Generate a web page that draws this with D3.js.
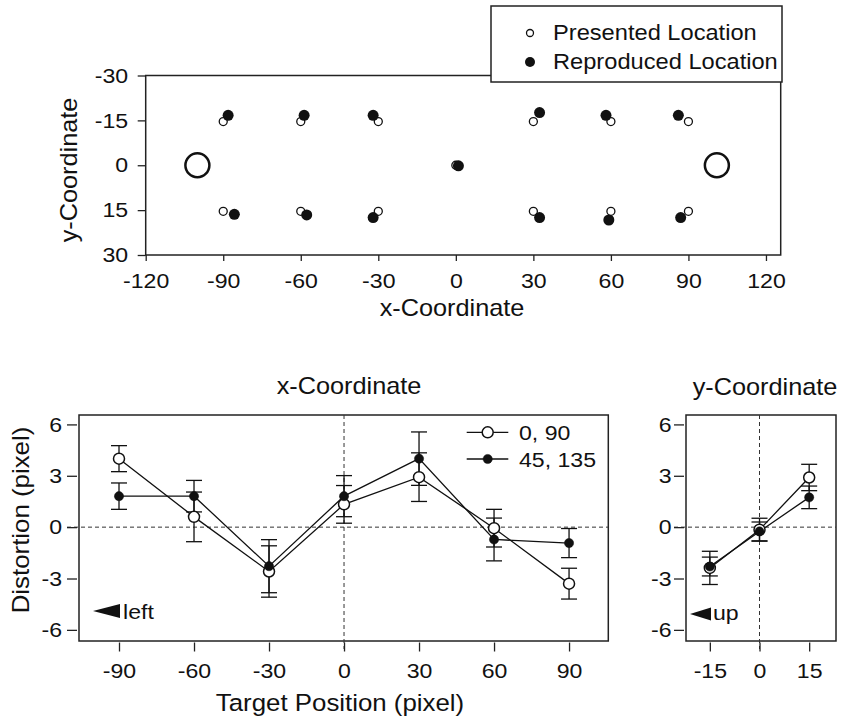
<!DOCTYPE html>
<html><head><meta charset="utf-8">
<script src="https://cdn.jsdelivr.net/npm/d3@7"></script>
<style>body{margin:0;background:#fff;} svg{display:block;}</style>
</head><body>
<svg id="chart" width="843" height="720"></svg>
<script>
// ---------- data ----------
const topTicksX = [-120, -90, -60, -30, 0, 30, 60, 90, 120];
const topTicksY = [-30, -15, 0, 15, 30];
const legendNames = ["Presented Location", "Reproduced Location"];
const presentedX = [-90, -60, -30, 30, 60, 90, -90, -60, -30, 30, 60, 90, 0];
const presentedY = [-14.6, -14.6, -14.6, -14.6, -14.6, -14.6, 15.4, 15.4, 15.4, 15.4, 15.4, 15.4, 0];
const reproducedX = [-88.1, -58.7, -32.0, 32.4, 58.1, 86.1, -85.7, -57.7, -32.0, 32.4, 59.2, 87.0, 1.0];
const reproducedY = [-16.7, -16.7, -16.7, -17.6, -16.7, -16.7, 16.4, 16.6, 17.5, 17.5, 18.3, 17.5, 0.2];
const anchorX = [-100, 101];
const anchorY = [0, 0];

const seriesNames = ["0, 90", "45, 135"];
const distTicks = [-6, -3, 0, 3, 6];
const targetX = [-90, -60, -30, 0, 30, 60, 90];
const xOpen = [4.0, 0.6, -2.59, 1.33, 2.92, -0.06, -3.3];
const xOpenErr = [0.76, 1.45, 1.5, 1.1, 1.42, 1.1, 0.9];
const xFilled = [1.81, 1.81, -2.28, 1.81, 4.0, -0.72, -0.93];
const xFilledErr = [0.77, 0.92, 1.55, 1.2, 1.56, 1.25, 0.85];
const targetY = [-15, 0, 15];
const yOpen = [-2.38, -0.15, 2.9];
const yOpenErr = [0.97, 0.67, 0.77];
const yFilled = [-2.3, -0.25, 1.74];
const yFilledErr = [0.55, 0.55, 0.66];

// ---------- helpers ----------
const FONT = "'Liberation Sans', Arial, Helvetica, sans-serif";
const SX = 1.1;
const INK = "#111";
const svg = d3.select("#chart");

function addText(x, y, str, size, anchor, rotate) {
  return svg.append("text")
    .attr("transform", `translate(${x},${y})${rotate ? " rotate(-90)" : ""} scale(${SX},1)`)
    .attr("text-anchor", anchor)
    .style("font-size", size + "px")
    .style("font-family", FONT)
    .attr("fill", INK)
    .text(str);
}
function styleAxis(g, size, isLeft) {
  g.select(".domain").remove();
  g.selectAll(".tick line").attr("stroke", "#222").attr("stroke-width", 1.3);
  g.selectAll(".tick text")
    .style("font-size", size + "px").style("font-family", FONT).attr("fill", INK)
    .attr("transform", `scale(${SX},1)`);
  if (isLeft) g.selectAll(".tick text").attr("x", function () { return +this.getAttribute("x") / SX; });
}
const fmt = d => String(d);

// ---------- top panel ----------
const xTop = d3.scaleLinear().domain([-120, 125.7]).range([145.7, 780.7]);
const yTop = d3.scaleLinear().domain([-30, 30]).range([75.5, 255]);

svg.append("rect").attr("x", xTop.range()[0]).attr("y", yTop.range()[0])
  .attr("width", xTop.range()[1] - xTop.range()[0]).attr("height", yTop.range()[1] - yTop.range()[0])
  .attr("fill", "none").attr("stroke", "#222").attr("stroke-width", 1.5);

const gxTop = svg.append("g").attr("transform", "translate(0,255)")
  .call(d3.axisBottom(xTop).tickValues(topTicksX).tickSize(6).tickPadding(12).tickFormat(fmt));
styleAxis(gxTop, 21, false);
const gyTop = svg.append("g").attr("transform", "translate(145.7,0)")
  .call(d3.axisLeft(yTop).tickValues(topTicksY).tickSize(8).tickPadding(9.5).tickFormat(fmt));
styleAxis(gyTop, 21, true);

addText(452, 316, "x-Coordinate", 23, "middle", false);
addText(77, 170, "y-Coordinate", 23, "middle", true);

svg.append("g").selectAll("circle").data(anchorX.map((x, i) => ({x, y: anchorY[i]}))).join("circle")
  .attr("cx", d => xTop(d.x)).attr("cy", d => yTop(d.y)).attr("r", 12)
  .attr("fill", "none").attr("stroke", INK).attr("stroke-width", 2.5);
svg.append("g").selectAll("circle").data(presentedX.map((x, i) => ({x, y: presentedY[i]}))).join("circle")
  .attr("cx", d => xTop(d.x)).attr("cy", d => yTop(d.y)).attr("r", 4)
  .attr("fill", "#fff").attr("stroke", INK).attr("stroke-width", 1.3);
svg.append("g").selectAll("circle").data(reproducedX.map((x, i) => ({x, y: reproducedY[i]}))).join("circle")
  .attr("cx", d => xTop(d.x)).attr("cy", d => yTop(d.y)).attr("r", 5.5)
  .attr("fill", INK);

// legend
svg.append("rect").attr("x", 491).attr("y", 6).attr("width", 291).attr("height", 76)
  .attr("fill", "#fff").attr("stroke", "#222").attr("stroke-width", 1.5);
svg.append("circle").attr("cx", 530).attr("cy", 33).attr("r", 3.5).attr("fill", "#fff").attr("stroke", INK).attr("stroke-width", 1.3);
svg.append("circle").attr("cx", 530).attr("cy", 62).attr("r", 5).attr("fill", INK);
addText(553, 39.5, legendNames[0], 21.5, "start", false);
addText(553, 68.5, legendNames[1], 21.5, "start", false);

// ---------- bottom panels ----------
const yB = d3.scaleLinear().domain([-6.65, 6.55]).range([641, 415]);

function drawPanel(xs, cats, openV, openE, fillV, fillE, yAxisX, yPad) {
  const [x0, x1] = xs.range();
  const [y1, y0] = yB.range();
  svg.append("rect").attr("x", x0).attr("y", y0).attr("width", x1 - x0).attr("height", y1 - y0)
    .attr("fill", "none").attr("stroke", "#222").attr("stroke-width", 1.5);
  // dashed reference lines
  svg.append("line").attr("x1", yAxisX - 10).attr("x2", x1).attr("y1", yB(0)).attr("y2", yB(0))
    .attr("stroke", "#333").attr("stroke-width", 1).attr("stroke-dasharray", "4,3");
  svg.append("line").attr("x1", xs(0)).attr("x2", xs(0)).attr("y1", y0).attr("y2", y1 + 8)
    .attr("stroke", "#333").attr("stroke-width", 1).attr("stroke-dasharray", "4,3");
  // axes
  const gx = svg.append("g").attr("transform", `translate(0,${y1 + 1.5})`)
    .call(d3.axisBottom(xs).tickValues(cats).tickSize(9).tickPadding(12).tickFormat(fmt));
  styleAxis(gx, 21, false);
  const gy = svg.append("g").attr("transform", `translate(${yAxisX},0)`)
    .call(d3.axisLeft(yB).tickValues(distTicks).tickSize(10).tickPadding(yPad).tickFormat(fmt));
  styleAxis(gy, 21, true);

  const series = [
    {v: openV, e: openE, open: true},
    {v: fillV, e: fillE, open: false}
  ];
  const line = d3.line().x(d => xs(d.x)).y(d => yB(d.v));
  series.forEach(s => {
    const pts = cats.map((x, i) => ({x, v: s.v[i], e: s.e[i]}));
    svg.append("path").datum(pts).attr("d", line).attr("fill", "none").attr("stroke", INK).attr("stroke-width", 1.3);
    s.pts = pts;
  });
  series.forEach(s => {
    const g = svg.append("g").attr("stroke", INK).attr("stroke-width", 1.3);
    s.pts.forEach(p => {
      const cx = xs(p.x), ya = yB(p.v + p.e), yb = yB(p.v - p.e);
      g.append("line").attr("x1", cx).attr("x2", cx).attr("y1", ya).attr("y2", yb);
      g.append("line").attr("x1", cx - 8).attr("x2", cx + 8).attr("y1", ya).attr("y2", ya);
      g.append("line").attr("x1", cx - 8).attr("x2", cx + 8).attr("y1", yb).attr("y2", yb);
    });
  });
  series.forEach(s => {
    svg.append("g").selectAll("circle").data(s.pts).join("circle")
      .attr("cx", d => xs(d.x)).attr("cy", d => yB(d.v))
      .attr("r", s.open ? 5.5 : 4.6)
      .attr("fill", s.open ? "#fff" : INK)
      .attr("stroke", INK).attr("stroke-width", s.open ? 1.5 : 0.5);
  });
}

const xLeft = d3.scaleLinear().domain([-106, 105.7]).range([79, 608.3]);
drawPanel(xLeft, targetX, xOpen, xOpenErr, xFilled, xFilledErr, 77, 5);
const xRight = d3.scaleLinear().domain([-22.2, 23.1]).range([686, 836]);
drawPanel(xRight, targetY, yOpen, yOpenErr, yFilled, yFilledErr, 684, 2.5);

// bottom legend
[{name: seriesNames[0], open: true, y: 432.3}, {name: seriesNames[1], open: false, y: 459}].forEach(l => {
  svg.append("line").attr("x1", 466.7).attr("x2", 508.3).attr("y1", l.y).attr("y2", l.y)
    .attr("stroke", INK).attr("stroke-width", 1.3);
  svg.append("circle").attr("cx", 487.7).attr("cy", l.y).attr("r", l.open ? 5.5 : 4.6)
    .attr("fill", l.open ? "#fff" : INK).attr("stroke", INK).attr("stroke-width", l.open ? 1.5 : 0.5);
  addText(519, l.y + 7.7, l.name, 21, "start", false);
});

// titles and axis labels
addText(349, 394, "x-Coordinate", 23, "middle", false);
addText(765, 395, "y-Coordinate", 23, "middle", false);
addText(340, 711, "Target Position (pixel)", 23.5, "middle", false);
addText(29, 520, "Distortion (pixel)", 23.5, "middle", true);

// direction annotations
svg.append("path").attr("d", "M93,611 L120,604 L120,618 Z").attr("fill", INK);
addText(123, 619, "left", 21, "start", false);
svg.append("path").attr("d", "M690,614 L711,607.5 L711,620.5 Z").attr("fill", INK);
addText(713, 620, "up", 21, "start", false);
</script>
</body></html>
